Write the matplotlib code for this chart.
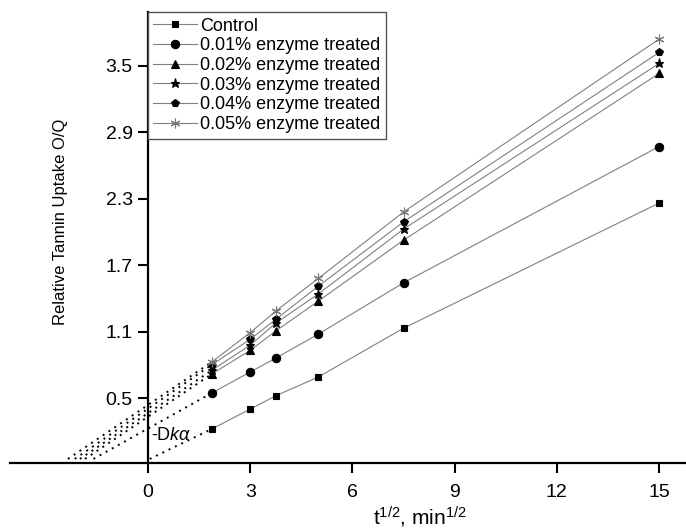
import matplotlib
matplotlib.use("Agg")
import matplotlib.pyplot as plt

plt.rcParams["font.family"] = ["Liberation Sans", "DejaVu Sans"]
plt.rcParams["mathtext.fontset"] = "custom"
plt.rcParams["mathtext.rm"] = "Liberation Sans"
plt.rcParams["mathtext.it"] = "Liberation Sans:italic"

# sqrt(t) values
x_vals = [1.87, 3.0, 3.75, 5.0, 7.5, 15.0]

labels = ["Control", "0.01% enzyme treated", "0.02% enzyme treated",
          "0.03% enzyme treated", "0.04% enzyme treated", "0.05% enzyme treated"]

control = [0.22, 0.40, 0.52, 0.69, 1.13, 2.26]
enz_001 = [0.545, 0.735, 0.86, 1.077, 1.54, 2.77]
enz_002 = [0.716, 0.93, 1.105, 1.375, 1.925, 3.43]
enz_003 = [0.75, 0.978, 1.176, 1.44, 2.025, 3.52]
enz_004 = [0.80, 1.03, 1.21, 1.51, 2.09, 3.62]
enz_005 = [0.825, 1.09, 1.285, 1.58, 2.18, 3.74]

# where the dotted back-extrapolations meet the x axis
extrap_x = [0.05, -1.6, -1.85, -2.0, -2.15, -2.35]
extrap_y = -0.05

x_ticks = [0, 3, 6, 9, 12, 15]
y_ticks = [0.5, 1.1, 1.7, 2.3, 2.9, 3.5]

series = [control, enz_001, enz_002, enz_003, enz_004, enz_005]
markers = ["s", "o", "^", "*", "p", (6, 2, 0)]
msizes = [4.5, 6, 6, 6.5, 6, 7]
mcolors = ["black", "black", "black", "black", "black", "#777777"]

fig = plt.figure(figsize=(6.86, 5.31), dpi=100)
ax = fig.add_axes([0.0146, 0.128, 0.9854, 0.849])

for ys, lab, m, ms, mc, x0 in zip(series, labels, markers, msizes, mcolors, extrap_x):
    ax.plot(x_vals, ys, color="#808080", linewidth=0.8, marker=m,
            markersize=ms, markerfacecolor=mc, markeredgecolor=mc,
            markeredgewidth=0.8, label=lab, zorder=3)
    # dotted extrapolation to the axis
    ax.plot([x0, x_vals[0]], [extrap_y, ys[0]], color="black",
            linewidth=1.4, linestyle=(0, (1, 2.6)), zorder=2)

ax.text(0.1, 0.165, r"-D$k\alpha$", fontsize=13, va="center", ha="left")

ax.set_xlim(-4.05, 15.79)
ax.set_ylim(-0.087, 3.983)
ax.set_xticks(x_ticks)
ax.set_yticks(y_ticks)
ax.set_yticklabels([f"{v:.1f}" for v in y_ticks])

ax.spines["left"].set_position(("data", 0))
ax.spines["top"].set_visible(False)
ax.spines["right"].set_visible(False)
ax.spines["left"].set_linewidth(1.6)
ax.spines["bottom"].set_linewidth(1.6)
ax.tick_params(axis="both", direction="out", length=7, width=1.5,
               labelsize=14, pad=4)
ax.tick_params(axis="x", pad=8)

fig.text(60 / 686, 1 - 222 / 531, "Relative Tannin Uptake O/Q", fontsize=12,
         rotation=90, ha="center", va="center")

fig.text(420 / 686, 1 / 531, r"t$^{1/2}$, min$^{1/2}$", fontsize=15,
         ha="center", va="bottom")

leg = ax.legend(loc="upper left", bbox_to_anchor=(4.05 / 19.84, 1.0),
                borderaxespad=0, fontsize=13, numpoints=1, fancybox=False,
                framealpha=1, edgecolor="#555555", handlelength=2.4,
                handletextpad=0.2, labelspacing=0.15, borderpad=0.3)
leg.get_frame().set_linewidth(1.0)

fig.savefig("out.png", dpi=100)
